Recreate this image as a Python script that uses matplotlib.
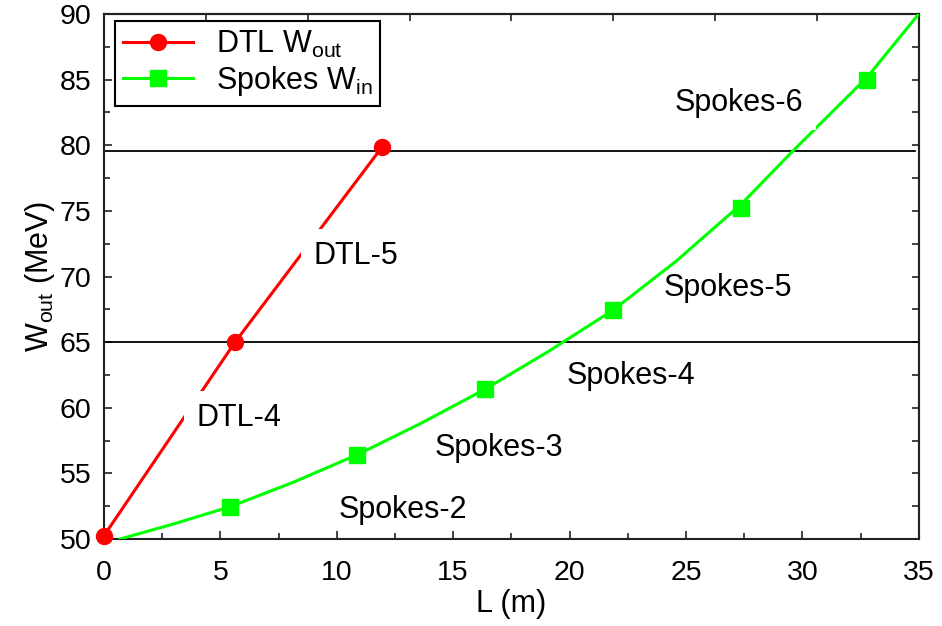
import matplotlib
matplotlib.use("Agg")
import matplotlib.pyplot as plt
import numpy as np

plt.rcParams['font.family'] = ['Liberation Sans', 'DejaVu Sans']
plt.rcParams['mathtext.fontset'] = 'custom'
plt.rcParams['mathtext.rm'] = 'Liberation Sans'
plt.rcParams['mathtext.it'] = 'Liberation Sans:italic'

# DTL output energy vs length
dtl_L = [0.0, 5.63, 11.96]
dtl_W = [50.25, 65.0, 79.9]

# spoke cavities input energy (markers) and the fitted curve through them
spokes_L = [5.42, 10.88, 16.37, 21.88, 27.37, 32.79]
spokes_W = [52.46, 56.42, 61.41, 67.45, 75.25, 84.97]
curve_L = [0.69, 3.0, 5.42, 8.1, 10.88, 13.6, 16.37, 19.1, 21.88, 24.6, 27.37, 29.5, 32.79, 35.0]
curve_W = [50.0, 51.15, 52.46, 54.3, 56.42, 58.8, 61.41, 64.3, 67.45, 71.2, 75.5, 79.4, 85.2, 90.0]

# section boundaries
bounds = [79.6, 65.0]
bound_end = [34.85, 35.0]

# section labels (x, baseline y)
dtl_labels = [("DTL-4", 3.98, 58.61), ("DTL-5", 8.99, 70.93)]
spoke_labels = [("Spokes-2", 10.06, 51.58), ("Spokes-3", 14.19, 56.35),
                ("Spokes-4", 19.87, 61.81), ("Spokes-5", 24.03, 68.54),
                ("Spokes-6", 24.53, 82.63)]

RED = '#ff0000'
GREEN = '#00ff00'

fig = plt.figure(figsize=(9.42, 6.26), dpi=100)
ax = fig.add_axes([0.1104, 0.139, 0.8649, 0.8386])

for y, xe in zip(bounds, bound_end):
    ax.plot([0, xe], [y, y], color='black', lw=1.3, zorder=2)

ax.plot(dtl_L, dtl_W, color=RED, lw=2.2, zorder=3)
ax.plot(dtl_L, dtl_W, 'o', color=RED, ms=11.5, zorder=6, clip_on=False)
ax.plot(curve_L, curve_W, color=GREEN, lw=2.2, zorder=3)
ax.plot(spokes_L, spokes_W, 's', color=GREEN, ms=12, zorder=6)

# legend proxies
h1, = ax.plot([], [], color=RED, lw=2.2, marker='o', ms=11.5, label=r'DTL W$_{\mathrm{out}}$')
h2, = ax.plot([], [], color=GREEN, lw=2.2, marker='s', ms=12, label=r'Spokes W$_{\mathrm{in}}$')

box = dict(boxstyle='square,pad=0.4', fc='white', ec='none')
for txt, x, y in dtl_labels:
    ax.text(x, y, txt, fontsize=22, va='baseline', ha='left', bbox=box, zorder=4)
for txt, x, y in spoke_labels:
    if txt == "Spokes-6":
        ax.text(x, y, txt, fontsize=22, va='baseline', ha='left', bbox=box, zorder=4)
    else:
        ax.text(x, y, txt, fontsize=22, va='baseline', ha='left', zorder=1)

ax.set_xlim(0, 35)
ax.set_ylim(50, 90)
ax.set_xticks(np.arange(0, 36, 5))
ax.set_xticks(np.arange(2.5, 35, 5), minor=True)
ax.set_yticks(np.arange(50, 91, 5))
ax.set_yticks(np.arange(52.5, 90, 5), minor=True)
ax.tick_params(which='both', direction='in', width=1.2, colors='#222222', labelcolor='black',
               labelsize=20.5, top=False, right=False)
ax.tick_params(axis='x', which='major', length=6, pad=15)
ax.tick_params(axis='y', which='major', length=6, pad=9)
ax.tick_params(which='minor', length=4)

top = ax.secondary_xaxis('top')
top.set_xticks(np.linspace(0, 35, 9))
top.set_xticklabels([])
top.tick_params(direction='in', length=5, width=1.2, colors='#222222')
right = ax.secondary_yaxis('right')
right.set_yticks(np.arange(52.5, 90, 2.5))
right.set_yticklabels([])
right.tick_params(direction='in', length=5, width=1.2, colors='#222222')
for a in (ax, top, right):
    for s in a.spines.values():
        s.set_linewidth(1.5)
        s.set_color('#222222')

ax.set_xlabel('L (m)', fontsize=22, labelpad=2)
ax.set_ylabel(r'W$_{\mathrm{out}}$ (MeV)', fontsize=22, labelpad=2)

leg = ax.legend(handles=[h1, h2], loc='upper left', bbox_to_anchor=(0.0135, 0.987),
                borderaxespad=0, fontsize=22, handlelength=2.3, handletextpad=0.75,
                labelspacing=0.15, borderpad=0.25, fancybox=False, framealpha=1,
                edgecolor='black', numpoints=1)
leg.get_frame().set_linewidth(1.5)

fig.savefig('out.png', dpi=100)
